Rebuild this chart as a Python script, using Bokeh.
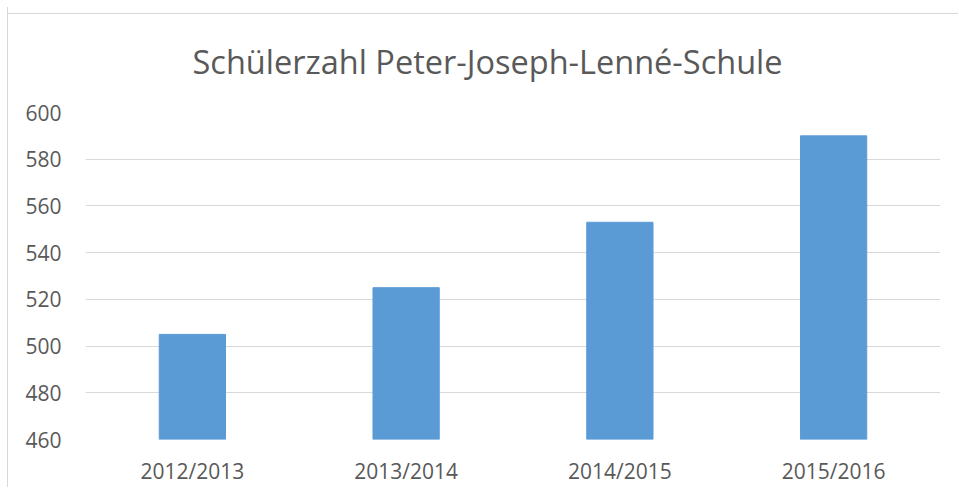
from bokeh.plotting import figure
from bokeh.models import ColumnDataSource, FixedTicker
from bokeh.embed import file_html
from bokeh.resources import INLINE

years = ["2012/2013", "2013/2014", "2014/2015", "2015/2016"]
students = [505, 525, 553, 590]
y_ticks = [460, 480, 500, 520, 540, 560, 580, 600]

src = ColumnDataSource(dict(x=years, top=students))

p = figure(x_range=years, y_range=(460, 600), width=951, height=480,
           output_backend="svg", toolbar_location=None,
           title="Schülerzahl Peter-Joseph-Lenné-Schule",
           min_border_left=77, min_border_right=19, min_border_top=105, min_border_bottom=44)
p.styles = {"border-left": "1px solid #d9d9d9",
            "margin-top": "7px", "margin-left": "7px",
            "background": "linear-gradient(#d9d9d9, #d9d9d9) 0 6px / 100% 1px no-repeat, #ffffff"}
p.border_fill_color = None
p.background_fill_color = "#ffffff"

p.vbar(x="x", top="top", bottom=460, width=0.31, source=src, color="#5b9bd5")

p.title.align = "left"
p.title.text_font = "Open Sans"
p.title.text_font_size = "32.5px"
p.title.text_font_style = "normal"
p.title.text_color = "#595959"
p.title.standoff = 57
p.title.offset = 107

p.outline_line_color = None
p.xgrid.grid_line_color = None
p.ygrid.grid_line_color = "#d9d9d9"
p.ygrid.grid_line_width = 1
p.yaxis.ticker = FixedTicker(ticks=y_ticks)

for ax in (p.xaxis, p.yaxis):
    ax.axis_line_color = None
    ax.major_tick_line_color = None
    ax.minor_tick_line_color = None
    ax.major_label_text_font = "Open Sans"
    ax.major_label_text_font_size = "21px"
    ax.major_label_text_color = "#595959"
p.yaxis.major_label_standoff = 18
p.xaxis.major_label_standoff = 11

open("out.html", "w").write(file_html(p, INLINE))
